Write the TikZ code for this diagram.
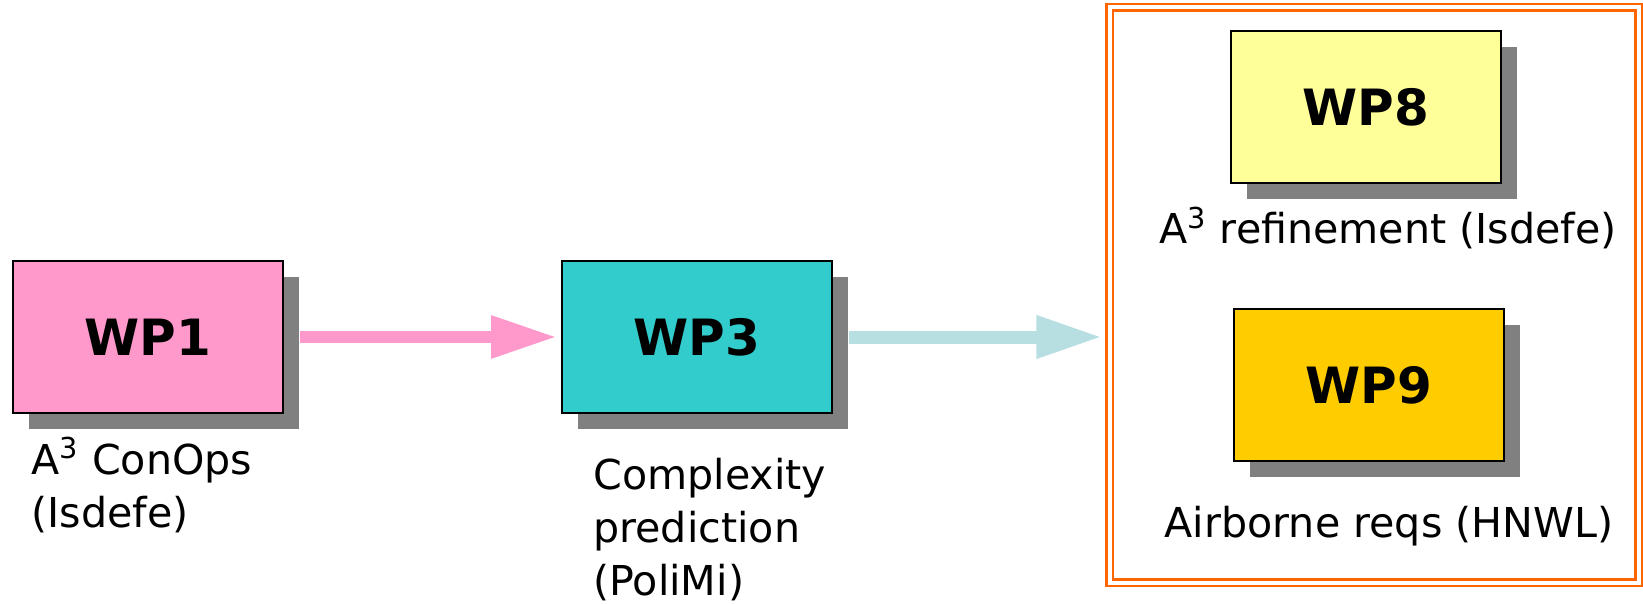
\documentclass[tikz,border=0pt]{standalone}
\usepackage{fontspec}
\setmainfont{DejaVu Sans}
\usetikzlibrary{arrows.meta,shadows}

\definecolor{wppink}{HTML}{FF99CC}
\definecolor{wpteal}{HTML}{33CCCC}
\definecolor{wplightteal}{HTML}{B7DFE2}
\definecolor{wpyellow}{HTML}{FFFF99}
\definecolor{wpgold}{HTML}{FFCC00}
\definecolor{wpshadow}{HTML}{808080}
\definecolor{wporange}{HTML}{FF6600}

\begin{document}
\begin{tikzpicture}[
    x=0.5pt, y=-0.5pt,
    wpbox/.style={draw, line width=1pt, rectangle, minimum width=135pt, minimum height=76pt,
        font=\fontsize{25pt}{29pt}\selectfont\bfseries,
        drop shadow={shadow xshift=8pt, shadow yshift=-8pt, fill=wpshadow, opacity=1}},
    wplabel/.style={align=left, inner sep=0pt, font=\fontsize{20.6pt}{26.5pt}\selectfont},
    arrow/.style={line width=6pt, -{Triangle[length=33pt,width=20pt]}}
]
\useasboundingbox (0,0) rectangle (1643,604);

% Frame round the two later work packages
\node (panel) at (1374,295) [draw=wporange, line width=1.1pt, double=white, double distance=2pt,
    outer sep=0pt, minimum width=264.5pt, minimum height=287.5pt] {};

% Work package boxes
\node[wpbox, fill=wppink] (wp1) at (148,337) {WP1};
\node[wpbox, fill=wpteal] (wp3) at (697,337) {WP3};
\node[wpbox, fill=wpyellow] (wp8) at (1366,107) {WP8};
\node[wpbox, fill=wpgold] (wp9) at (1369,385) {WP9};

% Captions under the boxes (base = last line)
\node[wplabel, anchor=base west] (l1) at (31,527) {A\textsuperscript{3} ConOps\\(Isdefe)};
\node[wplabel, anchor=base west] (l3) at (593,595) {Complexity\\prediction\\(PoliMi)};
\node[wplabel, anchor=base] (l8) at (1388,244) {A\textsuperscript{3} refinement (Isdefe)};
\node[wplabel, anchor=base] (l9) at (1389,537) {Airborne reqs (HNWL)};

% Draw arrows
\draw[arrow, wppink, shorten <=8pt, shorten >=2pt] (wp1.east) -- (wp3.west);
\draw[arrow, wplightteal, line width=6.5pt, shorten <=8pt, shorten >=3.6pt] (wp3.east) -- (wp3.east -| panel.west);

\end{tikzpicture}
\end{document}
